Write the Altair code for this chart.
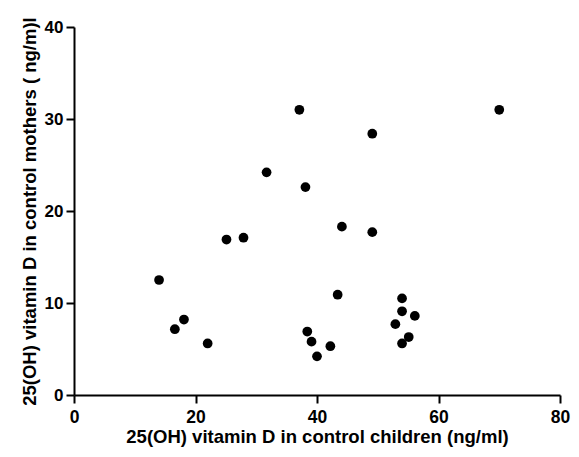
import altair as alt
import pandas as pd

children = [14.0, 16.6, 18.1, 22.0, 25.1, 27.9, 31.7, 37.1, 49.1, 38.1, 70.0,
            44.1, 49.1, 43.4, 38.4, 39.1, 40.0, 42.2, 54.0, 54.0, 56.1, 52.9, 55.1, 54.0]
mothers = [12.5, 7.15, 8.2, 5.6, 16.9, 17.1, 24.2, 31.0, 28.4, 22.6, 31.0,
           18.3, 17.7, 10.9, 6.9, 5.8, 4.2, 5.3, 10.5, 9.1, 8.6, 7.7, 6.3, 5.6]

df = pd.DataFrame({"children": children, "mothers": mothers})

FONT = "Liberation Sans"

chart = alt.Chart(df).mark_circle(size=95, color="black", opacity=1).encode(
    x=alt.X("children:Q",
            scale=alt.Scale(domain=[0, 80], nice=False, zero=False),
            axis=alt.Axis(values=[0, 20, 40, 60, 80],
                          title="25(OH) vitamin D in control children (ng/ml)")),
    y=alt.Y("mothers:Q",
            scale=alt.Scale(domain=[0, 40], nice=False, zero=False),
            axis=alt.Axis(values=[0, 10, 20, 30, 40],
                          title="25(OH) vitamin D in control mothers ( ng/m)l")),
).properties(
    width=486, height=368,
    autosize=alt.AutoSizeParams(type="none"),
    padding={"left": 66, "top": 19, "right": 11, "bottom": 54},
).configure_view(stroke=None).configure_axis(
    grid=False,
    domainColor="black", domainWidth=2,
    tickColor="black", tickWidth=2, tickSize=8,
    labelFont=FONT, labelFontWeight="bold", labelColor="black",
    labelFlush=False,
    titleFont=FONT, titleFontSize=18.5, titleFontWeight="bold", titleColor="black",
).configure_axisX(labelFontSize=17.5, labelPadding=5, titlePadding=2).configure_axisY(
    labelFontSize=17, labelPadding=3, titlePadding=5)

chart.save("out.html", embed_options={"renderer": "svg", "actions": False})
